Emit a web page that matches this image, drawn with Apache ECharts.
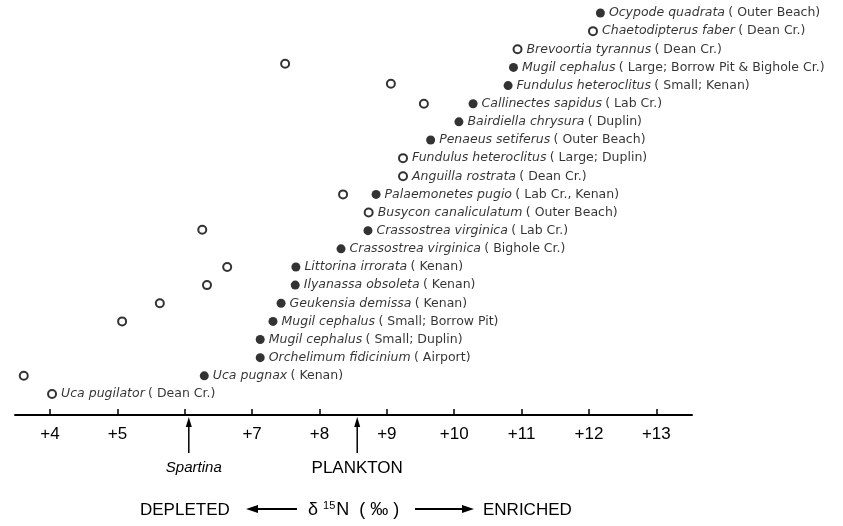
<!DOCTYPE html>
<html>
<head>
<meta charset="utf-8">
<script src="https://cdn.jsdelivr.net/npm/echarts@6/dist/echarts.min.js"></script>
<style>html,body{margin:0;padding:0;background:#fff}#c{width:843px;height:526px}</style>
</head>
<body>
<div id="c"></div>
<script>
// ---- data ----
const species = ['Ocypode quadrata','Chaetodipterus faber','Brevoortia tyrannus','Mugil cephalus','Fundulus heteroclitus','Callinectes sapidus','Bairdiella chrysura','Penaeus setiferus','Fundulus heteroclitus','Anguilla rostrata','Palaemonetes pugio','Busycon canaliculatum','Crassostrea virginica','Crassostrea virginica','Littorina irrorata','Ilyanassa obsoleta','Geukensia demissa','Mugil cephalus','Mugil cephalus','Orchelimum fidicinium','Uca pugnax','Uca pugilator'];
const sites = ['Outer Beach','Dean Cr.','Dean Cr.','Large; Borrow Pit & Bighole Cr.','Small; Kenan','Lab Cr.','Duplin','Outer Beach','Large; Duplin','Dean Cr.','Lab Cr., Kenan','Outer Beach','Lab Cr.','Bighole Cr.','Kenan','Kenan','Kenan','Small; Borrow Pit','Small; Duplin','Airport','Kenan','Dean Cr.'];
const d15N = [12.17,12.06,10.94,10.88,10.80,10.28,10.07,9.65,9.24,9.24,8.84,8.73,8.72,8.32,7.65,7.64,7.43,7.31,7.12,7.12,6.29,4.03];
const filled = [1,0,0,1,1,1,1,1,0,0,1,0,1,1,1,1,1,1,1,1,1,0];
// unlabeled open circles
const extraX = [7.49,9.06,9.55,8.35,6.26,6.63,6.33,5.63,5.07,3.61];
const extraRow = [2.8,3.9,5.0,10.0,11.95,14.0,15.0,16.0,17.0,20.0];
// axis
const tickValues = [4,5,6,7,8,9,10,11,12,13];
const tickLabelValues = [4,5,7,8,9,10,11,12,13];
const refNames = ['Spartina','PLANKTON'];
const refValues = [6.06,8.56];

const chart = echarts.init(document.getElementById('c'));
const ink = '#000';
const filledData = [], openData = [];
species.forEach((s,i)=>{
  const item = {value:[d15N[i], i], sp:s, site:sites[i]};
  (filled[i] ? filledData : openData).push(item);
});
const extraData = extraX.map((x,i)=>[x, extraRow[i]]);
const labelCfg = {
  show:true, position:'right', distance:4, color:ink,
  formatter: p => '{i|' + p.data.sp + '} {n|( ' + p.data.site + ')}',
  rich:{
    i:{fontStyle:'italic', fontFamily:'DejaVu Sans', fontSize:12.5, color:ink},
    n:{fontFamily:'DejaVu Sans', fontSize:12.5, color:ink}
  }
};
chart.setOption({
  animation:false,
  backgroundColor:'#fff',
  grid:{left:15, right:151, top:13, bottom:111, containLabel:false},
  xAxis:{
    type:'value', min:3.48, max:13.53, position:'bottom',
    splitLine:{show:false},
    axisLine:{onZero:false, lineStyle:{color:ink, width:2}},
    axisTick:{inside:true, length:6, customValues:tickValues, lineStyle:{color:ink, width:1.5}},
    axisLabel:{customValues:tickLabelValues, formatter:v=>'+'+v, margin:11, fontSize:17, color:ink, fontFamily:'Liberation Sans'}
  },
  yAxis:{type:'value', inverse:true, min:0, max:22.16, show:false},
  series:[
    {type:'scatter', clip:false, data:filledData, symbol:'circle', symbolSize:9,
     itemStyle:{color:ink}, label:labelCfg},
    {type:'scatter', clip:false, data:openData, symbol:'circle', symbolSize:8,
     itemStyle:{color:'#fff', borderColor:ink, borderWidth:2}, label:labelCfg},
    {type:'scatter', clip:false, data:extraData, symbol:'circle', symbolSize:8,
     itemStyle:{color:'#fff', borderColor:ink, borderWidth:2}}
  ]
});

const g = [];
refValues.forEach((v,i)=>{
  const x = chart.convertToPixel({xAxisIndex:0}, v);
  g.push({type:'line', shape:{x1:x, y1:453, x2:x, y2:424}, style:{stroke:ink, lineWidth:1.5}});
  g.push({type:'polygon', shape:{points:[[x,417],[x-3,427],[x+3,427]]}, style:{fill:ink}});
  g.push({type:'text', x:x + (i===0?5:0), y:468, style:{text:refNames[i], align:'center', verticalAlign:'middle',
    fontSize: i===0?15:17, fontStyle: i===0?'italic':'normal', fontFamily:'Liberation Sans', fill:ink}});
});
// bottom axis title
g.push({type:'text', x:140, y:510, style:{text:'DEPLETED', verticalAlign:'middle', fontSize:17, fontFamily:'Liberation Sans', fill:ink}});
g.push({type:'line', shape:{x1:254, y1:509, x2:297, y2:509}, style:{stroke:ink, lineWidth:2}});
g.push({type:'polygon', shape:{points:[[246,509],[258,505],[258,513]]}, style:{fill:ink}});
g.push({type:'text', x:308, y:510, style:{text:'{a|δ }{s|15}{a|N  ( ‰ )}', verticalAlign:'middle',
  rich:{a:{fontSize:18, fontFamily:'Liberation Sans', color:ink}, s:{fontSize:11, fontFamily:'Liberation Sans', color:ink, verticalAlign:'top', padding:[0,1,9,0]}}}});
g.push({type:'line', shape:{x1:415, y1:509, x2:465, y2:509}, style:{stroke:ink, lineWidth:2}});
g.push({type:'polygon', shape:{points:[[474,509],[462,505],[462,513]]}, style:{fill:ink}});
g.push({type:'text', x:483, y:510, style:{text:'ENRICHED', verticalAlign:'middle', fontSize:17, fontFamily:'Liberation Sans', fill:ink}});
chart.setOption({graphic:g});
</script>
</body>
</html>
